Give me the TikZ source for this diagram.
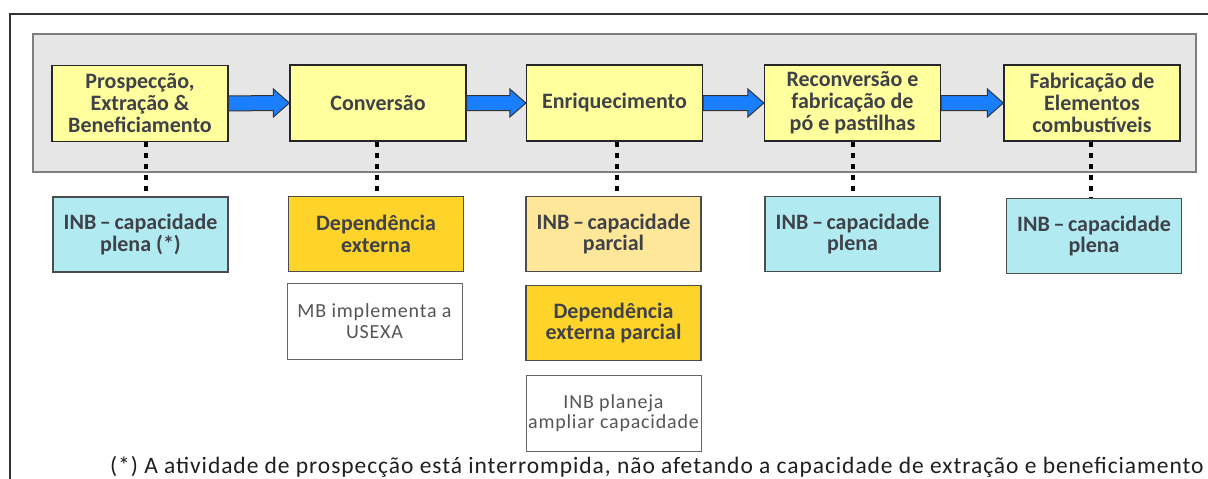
\documentclass[tikz,border=0pt]{standalone}
\usepackage{fontspec}
\setmainfont{Carlito}
\newfontfamily\notefont[LetterSpace=4]{Carlito}
\definecolor{panelgray}{HTML}{E6E6E6}
\definecolor{paneledge}{HTML}{7F7F7F}
\definecolor{stepyellow}{HTML}{FFFF9E}
\definecolor{cyanbox}{HTML}{B2EAF2}
\definecolor{goldbox}{HTML}{FFD42A}
\definecolor{paleyellow}{HTML}{FFE79A}
\definecolor{arrowblue}{HTML}{1A7FFF}
\definecolor{txt}{HTML}{3F4248}
\definecolor{graytxt}{HTML}{555555}
\begin{document}
\begin{tikzpicture}[x=1pt,y=-1pt,
  stage/.style={draw=black!85, line width=1.3pt, fill=stepyellow, minimum width=176pt, minimum height=76pt, align=center, inner sep=0pt, font=\fontsize{22}{22}\selectfont\bfseries, text=txt},
  status/.style={draw=black!70, line width=1.2pt, minimum width=175pt, minimum height=75pt, align=center, inner sep=0pt, font=\fontsize{22}{21.5}\selectfont\bfseries, text=txt},
  note/.style={draw=black!60, line width=1pt, fill=white, minimum width=175pt, minimum height=76pt, align=center, inner sep=0pt, font=\notefont\fontsize{20}{20.5}\selectfont, text=graytxt},
  dotline/.style={line width=4pt, dash pattern=on 5pt off 6pt, black},
  barrow/.style={draw=black!80, line width=1pt, fill=arrowblue, line join=miter}
]
\useasboundingbox (0,0) rectangle (1208,479);
\fill[white] (0,0) rectangle (1208,479);
% outer frame
\draw[line width=2pt, black!80] (10,14) rectangle (1240,520);
% gray panel
\draw[fill=panelgray, draw=paneledge, line width=1.3pt] (33,34) rectangle (1196,172);
% stages
\node[stage] (p1) at (140,103.5) {Prospecção,\\Extração \&\\Beneficiamento};
\node[stage] (p2) at (378,103) {Conversão};
\node[stage] (p3) at (614.5,103) {Enriquecimento};
\node[stage] (p4) at (852.5,103) {Reconversão e\\fabricação de\\pó e pastilhas};
\node[stage] (p5) at (1092,103) {Fabricação de\\Elementos\\combustíveis};
% block arrows
\foreach \a/\b in {p1/p2,p2/p3,p3/p4,p4/p5}{
  \draw[barrow] ([yshift=7.5pt]\a.east) -- ([xshift=-16pt,yshift=7.5pt]\b.west) -- ([xshift=-16pt,yshift=14pt]\b.west) -- (\b.west) -- ([xshift=-16pt,yshift=-14pt]\b.west) -- ([xshift=-16pt,yshift=-7.5pt]\b.west) -- ([yshift=-7.5pt]\a.east) -- cycle;
}
% status boxes
\node[status, fill=cyanbox] (s1) at (140.5,234.5) {INB\,–\,capacidade\\plena (*)};
\node[status, fill=goldbox] (s2) at (376,234) {Dependência\\externa};
\node[status, fill=paleyellow] (s3) at (613.5,234) {INB\,–\,capacidade\\parcial};
\node[status, fill=cyanbox] (s4) at (852.5,234) {INB\,–\,capacidade\\plena};
\node[status, fill=cyanbox] (s5) at (1094,236) {INB\,–\,capacidade\\plena};
\node[note] (n2) at (374.5,321) {MB implementa a\\USEXA};
\node[status, fill=goldbox] (s3b) at (613.5,323) {Dependência\\externa parcial};
\node[note] (n3) at (613.5,413) {INB planeja\\ampliar capacidade};
% dotted links
\draw[dotline] ([xshift=5.5pt]p1.south) -- ([xshift=5.5pt]p1.south |- s1.north);
\draw[dotline] ([xshift=-1.5pt]p2.south) -- ([xshift=-1.5pt]p2.south |- s2.north);
\draw[dotline] ([xshift=2.5pt]p3.south) -- ([xshift=2.5pt]p3.south |- s3.north);
\draw[dotline] ([xshift=0.5pt]p4.south) -- ([xshift=0.5pt]p4.south |- s4.north);
\draw[dotline] ([xshift=-1.5pt]p5.south) -- ([xshift=-1.5pt]p5.south |- s5.north);
% footnote
\node[anchor=base west, inner sep=0pt, font=\notefont\fontsize{23.5}{24}\selectfont, text=black!88] (fn) at (110,473) {(*) A atividade de prospecção está interrompida, não afetando a capacidade de extração e beneficiamento};
\end{tikzpicture}
\end{document}
